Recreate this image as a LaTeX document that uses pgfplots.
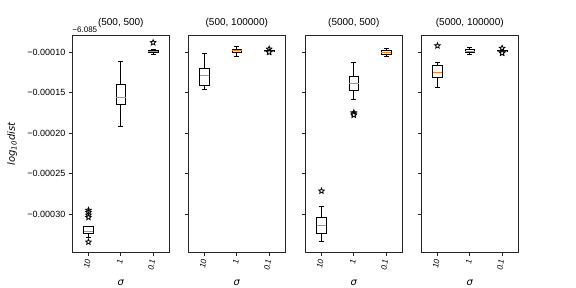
\documentclass[border=0pt]{standalone}
\usepackage{fontspec}
\setmainfont{Liberation Sans}
\newfontfamily\djv{DejaVu Sans}
\usepackage{pgfplots}
\pgfplotsset{compat=1.18}
\usepgfplotslibrary{statistics}
\definecolor{mplorange}{HTML}{FF7F0E}
\definecolor{framegray}{HTML}{262626}
\pgfdeclareplotmark{ostar}{%
  \pgfsetfillcolor{white}\pgfsetstrokecolor{black}\pgfsetlinewidth{0.8pt}%
  \pgfpathmoveto{\pgfpointpolar{90}{\pgfplotmarksize}}%
  \pgfpathlineto{\pgfpointpolar{126}{0.45\pgfplotmarksize}}%
  \pgfpathlineto{\pgfpointpolar{162}{\pgfplotmarksize}}%
  \pgfpathlineto{\pgfpointpolar{198}{0.45\pgfplotmarksize}}%
  \pgfpathlineto{\pgfpointpolar{234}{\pgfplotmarksize}}%
  \pgfpathlineto{\pgfpointpolar{270}{0.45\pgfplotmarksize}}%
  \pgfpathlineto{\pgfpointpolar{306}{\pgfplotmarksize}}%
  \pgfpathlineto{\pgfpointpolar{342}{0.45\pgfplotmarksize}}%
  \pgfpathlineto{\pgfpointpolar{18}{\pgfplotmarksize}}%
  \pgfpathlineto{\pgfpointpolar{54}{0.45\pgfplotmarksize}}%
  \pgfpathclose
  \pgfusepathqfillstroke}
\pgfplotsset{
  panel/.style={
    scale only axis, width=97pt, height=216.6pt,
    anchor=south west,
    xmin=0.5, xmax=3.5, ymin=-34.69, ymax=-7.95,
    axis line style={framegray, line width=0.8pt},
    tick align=outside, major tick length=3.5pt,
    tick style={framegray, line width=0.8pt},
    xtick={1,2,3}, xticklabels={10,1,0.1},
    xticklabel style={rotate=80, anchor=east, font=\fontsize{8}{9}\selectfont\itshape},
    ytick={-30,-25,-20,-15,-10},
    yticklabels={},
    yticklabel style={font=\fontsize{9}{10}\selectfont},
    xtick pos=bottom, ytick pos=left,
    title style={font=\fontsize{10}{12}\selectfont, yshift=-1pt},
    xlabel={σ},
    xlabel style={at={(axis description cs:0.5,-0.142)}, anchor=center, font=\djv\itshape\fontsize{10}{12}\selectfont},
    boxplot/draw direction=y,
    boxplot/box extend=0.3,
    boxplot/whisker extend=0.15,
    boxplot/every box/.style={draw=black, line width=0.8pt},
    boxplot/every whisker/.style={draw=black, line width=0.8pt},
    boxplot/every median/.style={draw=mplorange, line width=0.8pt},
    cycle list={{black, line width=0.8pt, mark=none}},
    clip=false,
  },
  outl/.style={only marks, mark=ostar, mark size=2.9pt, mark options={solid, fill=white, draw=black, line width=0.8pt}},
}
\begin{document}
\begin{tikzpicture}
\useasboundingbox (0pt,0pt) rectangle (576pt,288pt);
% Panel 1
\begin{axis}[panel, at={(72.3pt,35.7pt)}, title={(500, 500)},
  yticklabels={−0.00030,−0.00025,−0.00020,−0.00015,−0.00010},
  ylabel={log\textsubscript{10}dist},
  ylabel style={at={(axis description cs:-0.62,0.5)}, anchor=center, font=\djv\itshape\fontsize{10}{12}\selectfont}]
\addplot+[boxplot prepared={draw position=1, lower whisker=-32.84, lower quartile=-32.35, median=-32.06, upper quartile=-31.55, upper whisker=-31.50}] coordinates {};
\addplot+[boxplot prepared={draw position=2, lower whisker=-19.14, lower quartile=-16.42, median=-15.56, upper quartile=-14.0, upper whisker=-11.16}] coordinates {};
\addplot+[boxplot prepared={draw position=3, lower whisker=-10.25, lower quartile=-10.0, median=-9.88, upper quartile=-9.75, upper whisker=-9.59}] coordinates {};
\addplot[outl] coordinates {(1,-29.5) (1,-29.75) (1,-30.09) (1,-30.37) (1,-33.42) (3,-8.8)};
\node[anchor=south west, font=\fontsize{8}{9}\selectfont, inner sep=0pt] at (rel axis cs:0,1) [yshift=3pt] {−6.085};
\end{axis}
% Panel 2
\begin{axis}[panel, at={(188.3pt,35.7pt)}, title={(500, 100000)}]
\addplot+[boxplot prepared={draw position=1, lower whisker=-14.53, lower quartile=-14.07, median=-12.84, upper quartile=-11.98, upper whisker=-10.12}] coordinates {};
\addplot+[boxplot prepared={draw position=2, lower whisker=-10.49, lower quartile=-10.0, median=-9.75, upper quartile=-9.59, upper whisker=-9.26}] coordinates {};
\addplot+[boxplot prepared={draw position=3, lower whisker=-9.93, lower quartile=-9.88, median=-9.84, upper quartile=-9.80, upper whisker=-9.76}] coordinates {};
\addplot[outl] coordinates {(3,-9.6) (3,-9.95) (3,-10.0)};
\end{axis}
% Panel 3
\begin{axis}[panel, at={(305.3pt,35.7pt)}, title={(5000, 500)}]
\addplot+[boxplot prepared={draw position=1, lower whisker=-33.30, lower quartile=-32.39, median=-31.32, upper quartile=-30.37, upper whisker=-28.98}] coordinates {};
\addplot+[boxplot prepared={draw position=2, lower whisker=-15.80, lower quartile=-14.69, median=-13.83, upper quartile=-12.96, upper whisker=-11.23}] coordinates {};
\addplot+[boxplot prepared={draw position=3, lower whisker=-10.46, lower quartile=-10.25, median=-9.96, upper quartile=-9.80, upper whisker=-9.51}] coordinates {};
\addplot[outl] coordinates {(1,-27.12) (2,-17.45) (2,-17.6) (2,-17.75)};
\end{axis}
% Panel 4
\begin{axis}[panel, at={(421.3pt,35.7pt)}, title={(5000, 100000)}]
\addplot+[boxplot prepared={draw position=1, lower whisker=-14.32, lower quartile=-13.09, median=-12.47, upper quartile=-11.6, upper whisker=-11.23}] coordinates {};
\addplot+[boxplot prepared={draw position=2, lower whisker=-10.25, lower quartile=-10.05, median=-9.88, upper quartile=-9.63, upper whisker=-9.38}] coordinates {};
\addplot+[boxplot prepared={draw position=3, lower whisker=-9.93, lower quartile=-9.88, median=-9.84, upper quartile=-9.80, upper whisker=-9.76}] coordinates {};
\addplot[outl] coordinates {(1,-9.19) (3,-9.5) (3,-10.05) (3,-10.1)};
\end{axis}
\end{tikzpicture}
\end{document}
